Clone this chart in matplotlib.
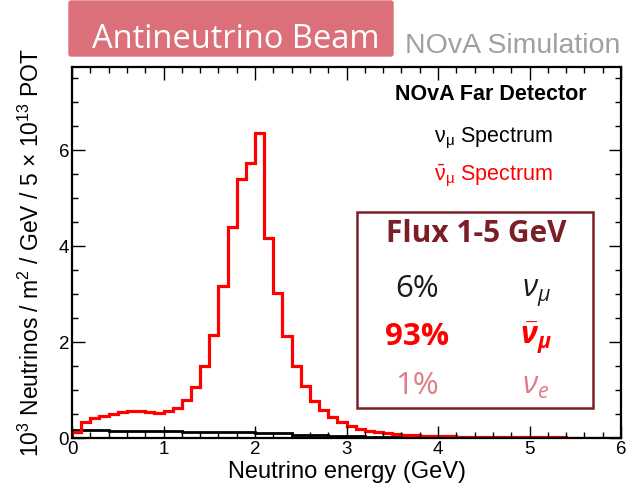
import numpy as np
import matplotlib
matplotlib.use('Agg')
import matplotlib.pyplot as plt
from matplotlib.patches import FancyBboxPatch, Rectangle

plt.rcParams['font.family'] = ['Liberation Sans', 'DejaVu Sans']
plt.rcParams['mathtext.fontset'] = 'custom'
plt.rcParams['mathtext.rm'] = 'Liberation Sans'
plt.rcParams['mathtext.it'] = 'Open Sans:italic'
plt.rcParams['mathtext.bf'] = 'Open Sans:bold:italic'

# neutrino energy bins (GeV), 0.1 GeV wide
bin_edges = np.linspace(0, 6, 61)

# anti-numu spectrum (red), 10^3 nu / m2 / GeV / 5e13 POT
numubar = [0.12, 0.34, 0.42, 0.46, 0.51, 0.54, 0.56, 0.56, 0.54, 0.53,
           0.56, 0.63, 0.80, 1.06, 1.49, 2.14, 3.17, 4.39, 5.40, 5.72,
           6.35, 4.17, 3.03, 2.12, 1.49, 1.08, 0.78, 0.58, 0.44, 0.34,
           0.25, 0.19, 0.15, 0.12, 0.10, 0.08, 0.07, 0.06, 0.05, 0.045,
           0.04, 0.035, 0.03, 0.03, 0.025, 0.025, 0.02, 0.02, 0.02, 0.02,
           0.015, 0.015, 0.015, 0.015, 0.01, 0.01, 0.01, 0.01, 0.01, 0.01]

# numu spectrum (black, wrong sign)
numu = [0.17, 0.17, 0.17, 0.17, 0.14, 0.14, 0.14, 0.14, 0.14, 0.14,
        0.14, 0.14, 0.12, 0.12, 0.12, 0.12, 0.12, 0.12, 0.12, 0.12,
        0.10, 0.10, 0.10, 0.10, 0.07, 0.07, 0.07, 0.07, 0.05, 0.05,
        0.05, 0.05, 0.03, 0.03, 0.03, 0.03, 0.03, 0.03, 0.03, 0.03,
        0.02, 0.02, 0.02, 0.02, 0.02, 0.02, 0.02, 0.02, 0.02, 0.02,
        0.015, 0.015, 0.015, 0.015, 0.01, 0.01, 0.01, 0.01, 0.01, 0.01]

flux_pct = ['6%', '93%', '1%']
flux_lbl = [r'$\nu_{\mu}$', r'$\mathbf{\bar{\nu}_{\mu}}$', r'$\nu_{e}$']

W, H = 636, 486
fig = plt.figure(figsize=(W / 100, H / 100), dpi=100)
ax = fig.add_axes([72 / W, 1 - 438 / H, (621 - 72) / W, (438 - 67) / H])

ax.stairs(numu, bin_edges, color='black', lw=2.0)
ax.stairs(numubar, bin_edges, color='#ff0000', lw=2.3)

ax.set_xlim(0, 6)
ax.set_ylim(0, 7.73)
ax.set_xticks(np.arange(0, 7, 1))
ax.set_xticks(np.arange(0, 6.01, 0.2), minor=True)
ax.set_yticks([0, 2, 4, 6])
ax.set_yticks(np.arange(0, 7.6, 0.5), minor=True)
ax.tick_params(which='both', direction='in', top=True, right=True, width=1.0)
ax.tick_params(which='major', length=9, labelsize=13.5, pad=2)
ax.tick_params(which='minor', length=4.5)
for s in ax.spines.values():
    s.set_linewidth(1.6)

ax.set_xlabel('Neutrino energy (GeV)', fontsize=17, labelpad=2)
ax.set_ylabel(r'10$^{3}$ Neutrinos / m$^{2}$ / GeV / 5 $\times$ 10$^{13}$ POT',
              fontsize=16.5, labelpad=11)


def fx(x):
    return x / W


def fy(y):
    return 1 - y / H


# banner
fig.patches.append(FancyBboxPatch((fx(69), fy(56)), fx(393) - fx(69), fy(1) - fy(56),
                                  boxstyle='round,pad=0,rounding_size=0.004',
                                  transform=fig.transFigure, color='#db707a', zorder=0))
fig.text(fx(236), fy(48), 'Antineutrino Beam', family='Open Sans', fontsize=23.5,
         color='white', ha='center', va='baseline')
fig.text(fx(405), fy(53), 'NOvA Simulation', fontsize=20.5, color='#a0a0a0',
         ha='left', va='baseline')

fig.text(fx(587), fy(100), 'NOvA Far Detector', fontsize=15.5, fontweight='bold',
         ha='right', va='baseline')
fig.text(fx(553), fy(142), r'$\mathrm{\nu_{\mu}}$ Spectrum', fontsize=15.5,
         ha='right', va='baseline')
fig.text(fx(553), fy(180), r'$\mathrm{\bar{\nu}_{\mu}}$ Spectrum', fontsize=15.5,
         color='#ff0000', ha='right', va='baseline')

# flux box
fig.patches.append(Rectangle((fx(357), fy(408)), fx(593) - fx(357), fy(212) - fy(408),
                             transform=fig.transFigure, fill=False,
                             edgecolor='#7b2027', lw=1.8))
fig.text(fx(476), fy(242), 'Flux 1-5 GeV', family='Open Sans', fontsize=21.5,
         fontweight='bold', color='#7b1f27', ha='center', va='baseline')
colors = ['#1a1a1a', '#ff0000', '#e07c84']
weights = ['normal', 'bold', 'normal']
rows = [297, 345, 394]
for pct, lbl, c, w, y in zip(flux_pct, flux_lbl, colors, weights, rows):
    fig.text(fx(417), fy(y), pct, family='Open Sans', fontsize=22.5, fontweight=w,
             color=c, ha='center', va='baseline')
    fig.text(fx(536), fy(y), lbl, fontsize=22, color=c, ha='center', va='baseline')

fig.savefig('out.png', dpi=100)
